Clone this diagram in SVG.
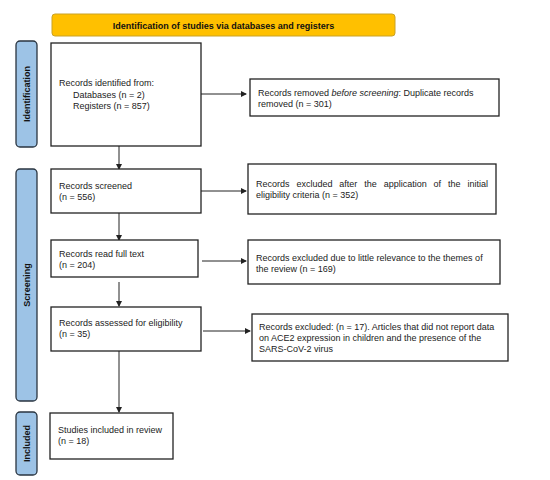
<svg xmlns="http://www.w3.org/2000/svg" width="550" height="480" viewBox="0 0 550 480">
<defs>
<style>
.t{font-family:"Liberation Sans",Arial,sans-serif;font-size:9px;fill:#222}
.b{font-family:"Liberation Sans",Arial,sans-serif;font-size:9px;font-weight:bold;fill:#111}
.box{fill:#fff;stroke:#222;stroke-width:1.3}
.side{fill:#9DC3E6;stroke:#2a3540;stroke-width:1.3}
.hdr{fill:#FFC000;stroke:#C9A227;stroke-width:1}
.c{stroke:#222;stroke-width:1;fill:none;marker-end:url(#ah)}
</style>
<marker id="ah" markerWidth="6" markerHeight="6" refX="5" refY="3" orient="auto" markerUnits="userSpaceOnUse">
<path d="M0,0 L6,3 L0,6 Z" fill="#222"/>
</marker>
</defs>
<rect width="550" height="480" fill="#fff"/>

<g id="header">
<rect class="hdr" x="52" y="14" width="343" height="22" rx="3"/>
<text class="b" x="223.5" y="29" text-anchor="middle">Identification of studies via databases and registers</text>
</g>

<g id="phase-identification">
<rect class="side" x="16" y="41" width="21" height="106" rx="4"/>
<text class="b" transform="translate(29.5,94) rotate(-90)" text-anchor="middle">Identification</text>
</g>
<g id="phase-screening">
<rect class="side" x="16" y="169" width="21" height="232" rx="4"/>
<text class="b" transform="translate(29.5,285) rotate(-90)" text-anchor="middle">Screening</text>
</g>
<g id="phase-included">
<rect class="side" x="16" y="412" width="21" height="63" rx="4"/>
<text class="b" transform="translate(29.5,443.5) rotate(-90)" text-anchor="middle">Included</text>
</g>

<g id="connectors">
<line class="c" x1="201" y1="94" x2="246" y2="94"/>
<line class="c" x1="119" y1="146" x2="119" y2="169"/>
<line class="c" x1="201" y1="191" x2="246" y2="191"/>
<line class="c" x1="119" y1="213" x2="119" y2="240"/>
<line class="c" x1="202" y1="261" x2="246" y2="261"/>
<line class="c" x1="119" y1="282" x2="119" y2="306"/>
<line class="c" x1="203" y1="331" x2="250" y2="331"/>
<line class="c" x1="119" y1="351" x2="119" y2="412"/>
</g>

<g id="records-identified">
<rect class="box" x="51" y="43" width="150" height="103"/>
<text class="t" x="59" y="86">Records identified from:</text>
<text class="t" x="73" y="98">Databases (n = 2)</text>
<text class="t" x="73" y="109">Registers (n = 857)</text>
</g>
<g id="records-removed">
<rect class="box" x="250" y="79" width="249" height="37"/>
<text class="t" x="258" y="96">Records removed <tspan font-style="italic">before screening</tspan>: Duplicate records</text>
<text class="t" x="258" y="107">removed (n = 301)</text>
</g>
<g id="records-screened">
<rect class="box" x="51" y="169" width="150" height="44"/>
<text class="t" x="59" y="189">Records screened</text>
<text class="t" x="59" y="200">(n = 556)</text>
</g>
<g id="records-excluded-initial">
<rect class="box" x="248" y="164" width="248" height="50"/>
<text class="t" x="256" y="187" word-spacing="4.4">Records excluded after the application of the initial</text>
<text class="t" x="256" y="198">eligibility criteria (n = 352)</text>
</g>
<g id="records-full-text">
<rect class="box" x="51" y="240" width="147" height="37"/>
<text class="t" x="59" y="257">Records read full text</text>
<text class="t" x="59" y="268">(n = 204)</text>
</g>
<g id="records-excluded-relevance">
<rect class="box" x="248" y="240" width="252" height="44"/>
<text class="t" x="256" y="261">Records excluded due to little relevance to the themes of</text>
<text class="t" x="256" y="272">the review (n = 169)</text>
</g>
<g id="records-assessed">
<rect class="box" x="51" y="307" width="150" height="44"/>
<text class="t" x="59" y="326">Records assessed for eligibility</text>
<text class="t" x="59" y="337">(n = 35)</text>
</g>
<g id="records-excluded-final">
<rect class="box" x="252" y="314" width="256" height="47"/>
<text class="t" x="259" y="330">Records excluded: (n = 17). Articles that did not report data</text>
<text class="t" x="259" y="341">on ACE2 expression in children and the presence of the</text>
<text class="t" x="259" y="352">SARS-CoV-2 virus</text>
</g>
<g id="studies-included">
<rect class="box" x="50" y="413" width="123" height="46"/>
<text class="t" x="58" y="433">Studies included in review</text>
<text class="t" x="58" y="444">(n = 18)</text>
</g>
</svg>
